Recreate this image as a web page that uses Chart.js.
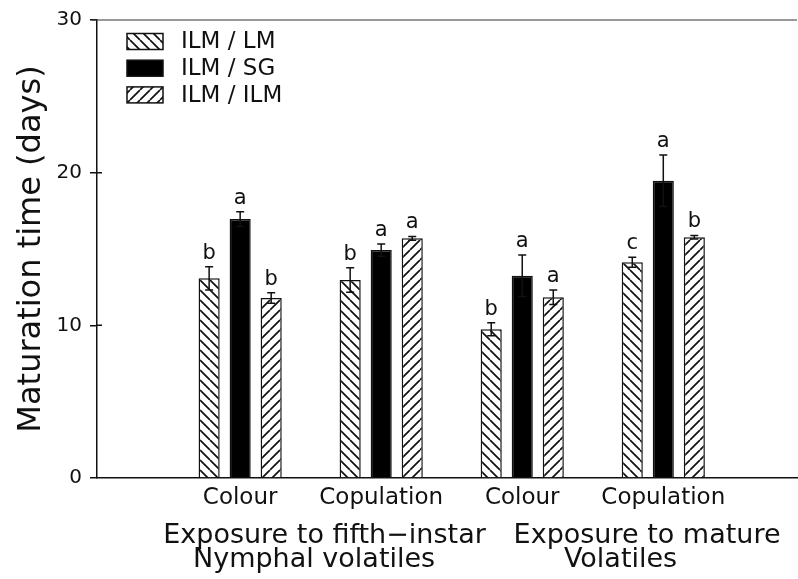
<!DOCTYPE html>
<html><head><meta charset="utf-8">
<script src="https://cdn.jsdelivr.net/npm/chart.js@4"></script>
<style>html,body{margin:0;padding:0;background:#fff}</style>
</head><body>
<canvas id="c" width="798" height="579"></canvas>
<script>
const categories = ['Colour', 'Copulation', 'Colour', 'Copulation'];
const groupTitles = [['Exposure to fifth\u2212instar', 'Nymphal volatiles'], ['Exposure to mature', 'Volatiles']];
const seriesNames = ['ILM / LM', 'ILM / SG', 'ILM / ILM'];
const lmValues = [13.08, 12.97, 9.74, 14.13];
const lmErrors = [0.76, 0.80, 0.43, 0.33];
const sgValues = [16.96, 14.93, 13.25, 19.47];
const sgErrors = [0.48, 0.40, 1.36, 1.69];
const ilmValues = [11.79, 15.70, 11.84, 15.77];
const ilmErrors = [0.35, 0.12, 0.48, 0.12];
const lmLetters = ['b', 'b', 'b', 'c'];
const sgLetters = ['a', 'a', 'a', 'a'];
const ilmLetters = ['b', 'a', 'a', 'b'];
const yTicks = [0, 10, 20, 30];

const FONT = '"DejaVu Sans", sans-serif';
const INK = '#111';

function hatch(dir) {
  const p = 10;
  const c = document.createElement('canvas');
  c.width = p; c.height = p;
  const g = c.getContext('2d');
  g.fillStyle = '#fff'; g.fillRect(0, 0, p, p);
  g.strokeStyle = INK; g.lineWidth = 1.7;
  g.beginPath();
  for (const o of [-p, 0, p]) {
    if (dir === 'back') { g.moveTo(o, 0); g.lineTo(o + p, p); }
    else { g.moveTo(o, p); g.lineTo(o + p, 0); }
  }
  g.stroke();
  return g.createPattern(c, 'repeat');
}

function makeSet(label, values, errors, letters, bg) {
  return {
    label, data: values.map((v, i) => ({x: i, y: v})),
    errors, letters,
    backgroundColor: bg, borderColor: INK, borderWidth: 1.5,
    categoryPercentage: 0.66, barPercentage: 0.68
  };
}

const datasets = [
  makeSet(seriesNames[0], lmValues, lmErrors, lmLetters, hatch('back')),
  makeSet(seriesNames[1], sgValues, sgErrors, sgLetters, '#000'),
  makeSet(seriesNames[2], ilmValues, ilmErrors, ilmLetters, hatch('fwd'))
];

const decor = {
  id: 'decor',
  afterDatasetsDraw(chart) {
    const g = chart.ctx, y = chart.scales.y;
    g.save();
    chart.data.datasets.forEach((ds, di) => {
      const meta = chart.getDatasetMeta(di);
      meta.data.forEach((el, i) => {
        const v = ds.data[i].y, e = ds.errors[i];
        const yt = y.getPixelForValue(v + e), yb = y.getPixelForValue(v - e), x = el.x;
        g.strokeStyle = INK; g.lineWidth = 1.5;
        g.beginPath();
        g.moveTo(x, yb); g.lineTo(x, yt);
        g.moveTo(x - 4, yt); g.lineTo(x + 4, yt);
        g.moveTo(x - 4, yb); g.lineTo(x + 4, yb);
        g.stroke();
        g.fillStyle = INK; g.font = '21px ' + FONT;
        g.textAlign = 'center'; g.textBaseline = 'alphabetic';
        g.fillText(ds.letters[i], x, yt - 8);
      });
    });
    g.restore();
  },
  afterDraw(chart) {
    const g = chart.ctx, ca = chart.chartArea, xs = chart.scales.x, ys = chart.scales.y;
    g.save();
    // top frame line
    g.strokeStyle = '#333'; g.lineWidth = 1.2;
    g.beginPath(); g.moveTo(ca.left - 6, ca.top); g.lineTo(ca.right, ca.top); g.stroke();
    // inner tick marks
    g.strokeStyle = INK; g.lineWidth = 1.5;
    g.beginPath();
    [10, 20].forEach(v => { const py = ys.getPixelForValue(v); g.moveTo(ca.left, py); g.lineTo(ca.left + 5, py); });
    g.stroke();
    // legend
    chart.data.datasets.forEach((ds, i) => {
      const cy = ca.top + 21.5 + i * 26.7;
      const bx = ca.left + 30;
      g.fillStyle = ds.backgroundColor; g.fillRect(bx, cy - 8, 36, 16);
      g.strokeStyle = INK; g.lineWidth = 1.5; g.strokeRect(bx, cy - 8, 36, 16);
      g.fillStyle = INK; g.font = '23px ' + FONT;
      g.textAlign = 'left'; g.textBaseline = 'middle';
      g.fillText(ds.label, ca.left + 84, cy + 1);
    });
    // group titles
    const pos = [[0.598, 0.524], [2.885, 2.697]];
    g.fillStyle = INK; g.font = '27px ' + FONT;
    g.textAlign = 'center'; g.textBaseline = 'alphabetic';
    groupTitles.forEach((lines, k) => {
      g.fillText(lines[0], xs.getPixelForValue(pos[k][0]), 543);
      g.fillText(lines[1], xs.getPixelForValue(pos[k][1]), 567);
    });
    g.restore();
  }
};

new Chart(document.getElementById('c'), {
  type: 'bar',
  data: {datasets},
  options: {
    responsive: false, animation: false, devicePixelRatio: 1,
    layout: {padding: {left: 8, top: 20, right: 1, bottom: 0}},
    plugins: {legend: {display: false}, tooltip: {enabled: false}},
    scales: {
      x: {
        type: 'linear', min: -1.015, max: 3.948, offset: false,
        grid: {display: true, drawOnChartArea: false, drawTicks: false, offset: false},
        border: {display: true, color: INK, width: 1.5},
        afterBuildTicks: s => { s.ticks = categories.map((_, i) => ({value: i})); },
        ticks: {autoSkip: false, maxRotation: 0, padding: 6, color: INK,
          font: {family: FONT, size: 23},
          callback: v => (categories[v] !== undefined ? categories[v] : '')},
        afterFit: s => { s.height = 101; }
      },
      y: {
        min: 0, max: 30,
        afterBuildTicks: s => { s.ticks = yTicks.map(v => ({value: v})); },
        grid: {drawOnChartArea: false, drawTicks: true, tickLength: 7, color: INK, lineWidth: 1.5},
        border: {display: true, color: INK, width: 1.5},
        ticks: {padding: 8, color: INK, font: {family: FONT, size: 20}},
        title: {display: true, text: 'Maturation time (days)', color: INK,
          font: {family: FONT, size: 32}, padding: {top: 4, bottom: 4}},
        afterFit: s => { s.width = 89; }
      }
    }
  },
  plugins: [decor]
});
</script>
</body></html>
